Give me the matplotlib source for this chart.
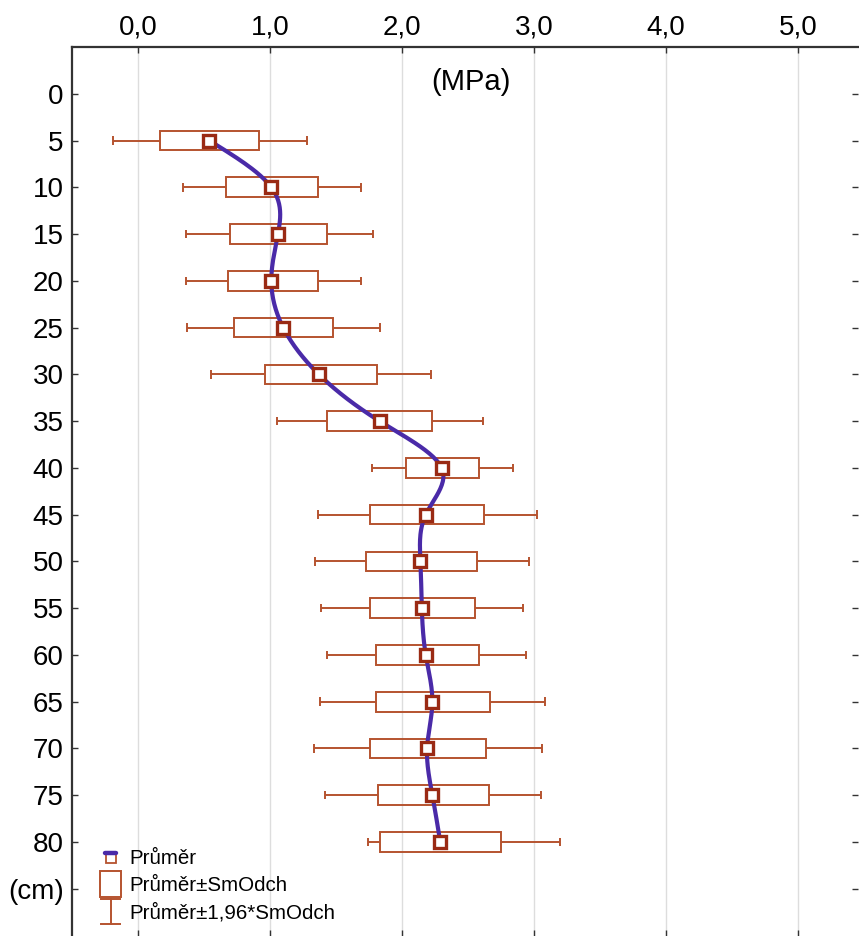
import matplotlib
matplotlib.use("Agg")
import matplotlib.pyplot as plt
import numpy as np
from matplotlib.lines import Line2D
from matplotlib.patches import Rectangle
from matplotlib.legend_handler import HandlerBase

plt.rcParams['font.family'] = ['Liberation Sans', 'DejaVu Sans']

# depth (cm) and penetration resistance (MPa)
depth = [5, 10, 15, 20, 25, 30, 35, 40, 45, 50, 55, 60, 65, 70, 75, 80]
mean = [0.54, 1.01, 1.06, 1.01, 1.10, 1.37, 1.83, 2.30, 2.18, 2.14, 2.15, 2.18, 2.23, 2.19, 2.23, 2.29]
sd_low = [0.17, 0.67, 0.70, 0.68, 0.73, 0.96, 1.43, 2.03, 1.76, 1.73, 1.76, 1.80, 1.80, 1.76, 1.82, 1.83]
sd_high = [0.92, 1.36, 1.43, 1.36, 1.48, 1.81, 2.23, 2.58, 2.62, 2.57, 2.55, 2.58, 2.67, 2.64, 2.66, 2.75]
ci_low = [-0.19, 0.34, 0.36, 0.36, 0.37, 0.55, 1.05, 1.77, 1.36, 1.34, 1.39, 1.43, 1.38, 1.33, 1.42, 1.74]
ci_high = [1.28, 1.69, 1.78, 1.69, 1.83, 2.22, 2.61, 2.84, 3.02, 2.96, 2.92, 2.94, 3.08, 3.06, 3.05, 3.20]

x_ticks = [0, 1, 2, 3, 4, 5]
x_labels = ['0,0', '1,0', '2,0', '3,0', '4,0', '5,0']
y_ticks = [0, 5, 10, 15, 20, 25, 30, 35, 40, 45, 50, 55, 60, 65, 70, 75, 80, 85]
y_labels = [str(v) for v in y_ticks[:-1]] + ['(cm)']

RUST = '#b5532f'
DARK = '#9a2a14'
PURPLE = '#4a2aa8'


def natural_spline(t, v, n=400):
    # smooth curve through the means (Statistica style spline)
    t = np.asarray(t, float)
    v = np.asarray(v, float)
    h = np.diff(t)
    k = len(t)
    A = np.zeros((k, k))
    b = np.zeros(k)
    A[0, 0] = A[-1, -1] = 1
    for i in range(1, k - 1):
        A[i, i - 1] = h[i - 1]
        A[i, i] = 2 * (h[i - 1] + h[i])
        A[i, i + 1] = h[i]
        b[i] = 6 * ((v[i + 1] - v[i]) / h[i] - (v[i] - v[i - 1]) / h[i - 1])
    M = np.linalg.solve(A, b)
    tt = np.linspace(t[0], t[-1], n)
    idx = np.clip(np.searchsorted(t, tt) - 1, 0, k - 2)
    t0, t1 = t[idx], t[idx + 1]
    hh = t1 - t0
    a = (t1 - tt) / hh
    c = (tt - t0) / hh
    vv = (a * v[idx] + c * v[idx + 1]
          + ((a ** 3 - a) * M[idx] + (c ** 3 - c) * M[idx + 1]) * hh ** 2 / 6)
    return tt, vv


class BoxHandler(HandlerBase):
    def create_artists(self, legend, orig, xd, yd, w, h, fs, trans):
        r = Rectangle((-xd, -yd - 4), w, h + 8, fill=False,
                      edgecolor=RUST, lw=1.4, transform=trans)
        return [r]


class WhiskerHandler(HandlerBase):
    def create_artists(self, legend, orig, xd, yd, w, h, fs, trans):
        cx = -xd + w / 2
        y0, y1 = -yd - 4, h + 4
        cw = w * 0.45
        arts = [Line2D([cx, cx], [y0, y1], color=RUST, lw=1.4),
                Line2D([cx - cw, cx + cw], [y0, y0], color=RUST, lw=1.4),
                Line2D([cx - cw, cx + cw], [y1, y1], color=RUST, lw=1.4)]
        for a in arts:
            a.set_transform(trans)
        return arts


class MeanHandler(HandlerBase):
    def create_artists(self, legend, orig, xd, yd, w, h, fs, trans):
        cx = -xd + w / 2
        sq = Line2D([cx], [h * 0.4], marker='s', ms=6.5, mfc='white',
                    mec=RUST, mew=1.3, ls='none')
        ln = Line2D([cx - w * 0.28, cx + w * 0.28], [h * 0.75, h * 0.75],
                    color=PURPLE, lw=3.2, solid_capstyle='round')
        sq.set_transform(trans)
        ln.set_transform(trans)
        return [sq, ln]


fig = plt.figure(figsize=(8.59, 9.36), dpi=100)
ax = fig.add_axes([72 / 859, 0.0, 786 / 859, 1 - 47 / 936])

ax.set_xlim(-0.5, 5.4545)
ax.set_ylim(90.05, -5)

ax.grid(axis='x', color='#dddddd', lw=1, zorder=0)

tt, xx = natural_spline(depth, mean)
ax.plot(xx, tt, color=PURPLE, lw=3, zorder=4, solid_capstyle='round')

box_h = 2.1
cap_h = 0.9
for d, lo, hi in zip(depth, sd_low, sd_high):
    ax.add_patch(Rectangle((lo, d - box_h / 2), hi - lo, box_h, fill=False,
                           edgecolor=RUST, lw=1.4, zorder=3))
ax.hlines(depth, ci_low, sd_low, color=RUST, lw=1.4, zorder=3)
ax.hlines(depth, sd_high, ci_high, color=RUST, lw=1.4, zorder=3)
ax.vlines(ci_low, np.array(depth) - cap_h / 2, np.array(depth) + cap_h / 2,
          color=RUST, lw=1.4, zorder=3)
ax.vlines(ci_high, np.array(depth) - cap_h / 2, np.array(depth) + cap_h / 2,
          color=RUST, lw=1.4, zorder=3)
ax.plot(mean, depth, ls='none', marker='s', ms=8, mfc='white', mec=DARK,
        mew=2.4, zorder=5)

ax.text(2.52, -1.3, '(MPa)', ha='center', va='center', fontsize=21)

ax.set_xticks(x_ticks)
ax.set_xticklabels(x_labels)
ax.set_yticks(y_ticks)
ax.set_yticklabels(y_labels)
ax.xaxis.set_ticks_position('both')
ax.tick_params(axis='x', top=True, bottom=True, labeltop=True, labelbottom=False,
               direction='in', length=4, width=1, labelsize=20, pad=5,
               color='#333333')
ax.tick_params(axis='y', left=True, right=True, direction='in', length=4,
               width=1, labelsize=20, pad=6, color='#333333')
for s in ['right', 'bottom']:
    ax.spines[s].set_visible(False)
for s in ['left', 'top']:
    ax.spines[s].set_color('#333333')
    ax.spines[s].set_linewidth(1.6)

handles = [object(), object(), object()]
leg = ax.legend(handles, ['Průměr', 'Průměr±SmOdch', 'Průměr±1,96*SmOdch'],
                handler_map={handles[0]: MeanHandler(), handles[1]: BoxHandler(),
                             handles[2]: WhiskerHandler()},
                loc='upper left', bbox_to_anchor=(0.036, 0.098), frameon=False,
                fontsize=14.8, handlelength=1.0, handletextpad=0.42,
                labelspacing=0.4, borderpad=0, borderaxespad=0)

fig.savefig('out.png', dpi=100)
